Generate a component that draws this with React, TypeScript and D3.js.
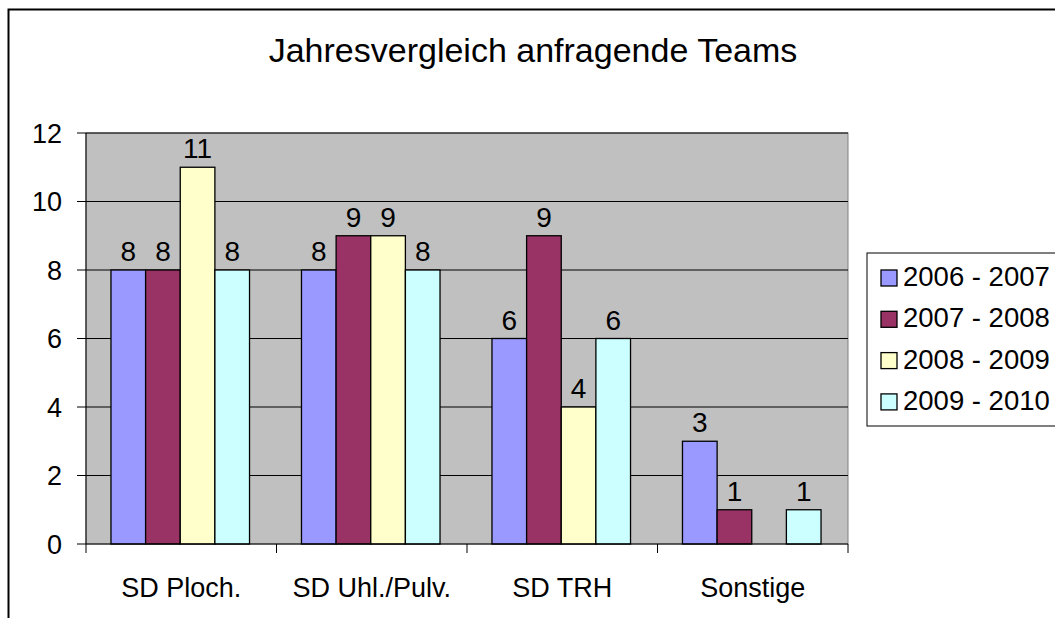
import React from "react";
import * as d3 from "d3";

const categories = ["SD Ploch.", "SD Uhl./Pulv.", "SD TRH", "Sonstige"];
const seriesNames = ["2006 - 2007", "2007 - 2008", "2008 - 2009", "2009 - 2010"];
const seriesColors = ["#9999FF", "#993366", "#FFFFCC", "#CCFFFF"];
const s2006: (number | null)[] = [8, 8, 6, 3];
const s2007: (number | null)[] = [8, 9, 9, 1];
const s2008: (number | null)[] = [11, 9, 4, null];
const s2009: (number | null)[] = [8, 8, 6, 1];
const seriesValues = [s2006, s2007, s2008, s2009];
const yTicks = [0, 2, 4, 6, 8, 10, 12];
const title = "Jahresvergleich anfragende Teams";

const W = 1055;
const H = 618;
const plot = { left: 86, right: 848, top: 133, bottom: 544 };
const FONT = "'Liberation Sans', Arial, sans-serif";

export default function App() {
  const x = d3.scaleBand<string>().domain(categories).range([plot.left, plot.right]).padding(0);
  const step = x.bandwidth();
  const barW = step / 5.5;
  const groupOffset = (step - 4 * barW) / 2 - 1;
  const xs = d3
    .scaleBand<string>()
    .domain(seriesNames)
    .range([groupOffset, groupOffset + 4 * barW])
    .padding(0);
  const y = d3.scaleLinear().domain([0, 12]).range([plot.bottom, plot.top]);

  const legend = { x: 867, y: 253, h: 173 };
  const legendStep = 41.3;

  return (
    <svg
      width={W}
      height={H}
      style={{ position: "absolute", left: 0, top: 0, background: "#fff" }}
      fontFamily={FONT}
    >
      <rect x={8.5} y={9.5} width={W + 20} height={H + 20} fill="#fff" stroke="#000" strokeWidth={2} />
      <text x={533} y={62} textAnchor="middle" fontSize={34} fill="#000">
        {title}
      </text>

      {/* plot area */}
      <rect
        x={plot.left}
        y={plot.top}
        width={plot.right - plot.left}
        height={plot.bottom - plot.top}
        fill="#C0C0C0"
        stroke="#808080"
        strokeWidth={1}
      />
      {yTicks.map((t) => (
        <g key={t}>
          {t > 0 && (
            <line x1={plot.left} x2={plot.right} y1={y(t)} y2={y(t)} stroke="#000" strokeWidth={1} />
          )}
          <line x1={plot.left - 9} x2={plot.left} y1={y(t)} y2={y(t)} stroke="#000" strokeWidth={1} />
          <text x={62} y={y(t)} dy="0.36em" textAnchor="end" fontSize={27} fill="#000">
            {t}
          </text>
        </g>
      ))}

      {/* bars */}
      {categories.map((c, ci) => (
        <g key={c}>
          {seriesNames.map((s, si) => {
            const v = seriesValues[si][ci];
            if (v == null) return null;
            const bx = (x(c) as number) + (xs(s) as number);
            return (
              <g key={s}>
                <rect
                  x={bx}
                  y={y(v)}
                  width={xs.bandwidth()}
                  height={y(0) - y(v)}
                  fill={seriesColors[si]}
                  stroke="#000"
                  strokeWidth={1.3}
                />
                <text
                  x={bx + xs.bandwidth() / 2}
                  y={y(v) - 9}
                  textAnchor="middle"
                  fontSize={28}
                  fill="#000"
                >
                  {v}
                </text>
              </g>
            );
          })}
        </g>
      ))}

      {/* axes */}
      <line x1={plot.left} x2={plot.left} y1={plot.top} y2={plot.bottom} stroke="#000" strokeWidth={1} />
      <line x1={plot.left} x2={plot.right} y1={plot.bottom} y2={plot.bottom} stroke="#000" strokeWidth={1} />
      {[...categories.map((c) => x(c) as number), plot.right].map((tx, i) => (
        <line key={i} x1={tx} x2={tx} y1={plot.bottom} y2={plot.bottom + 9} stroke="#000" strokeWidth={1} />
      ))}
      {categories.map((c) => (
        <text
          key={c}
          x={(x(c) as number) + step / 2}
          y={597}
          textAnchor="middle"
          fontSize={27}
          fill="#000"
        >
          {c}
        </text>
      ))}

      {/* legend */}
      <rect x={legend.x} y={legend.y} width={W} height={legend.h} fill="#fff" stroke="#000" strokeWidth={1} />
      {seriesNames.map((s, i) => (
        <g key={s}>
          <rect
            x={881}
            y={270 + i * legendStep}
            width={16}
            height={16}
            fill={seriesColors[i]}
            stroke="#000"
            strokeWidth={1.3}
          />
          <text x={903} y={286 + i * legendStep} fontSize={27.5} fill="#000">
            {s}
          </text>
        </g>
      ))}
    </svg>
  );
}
